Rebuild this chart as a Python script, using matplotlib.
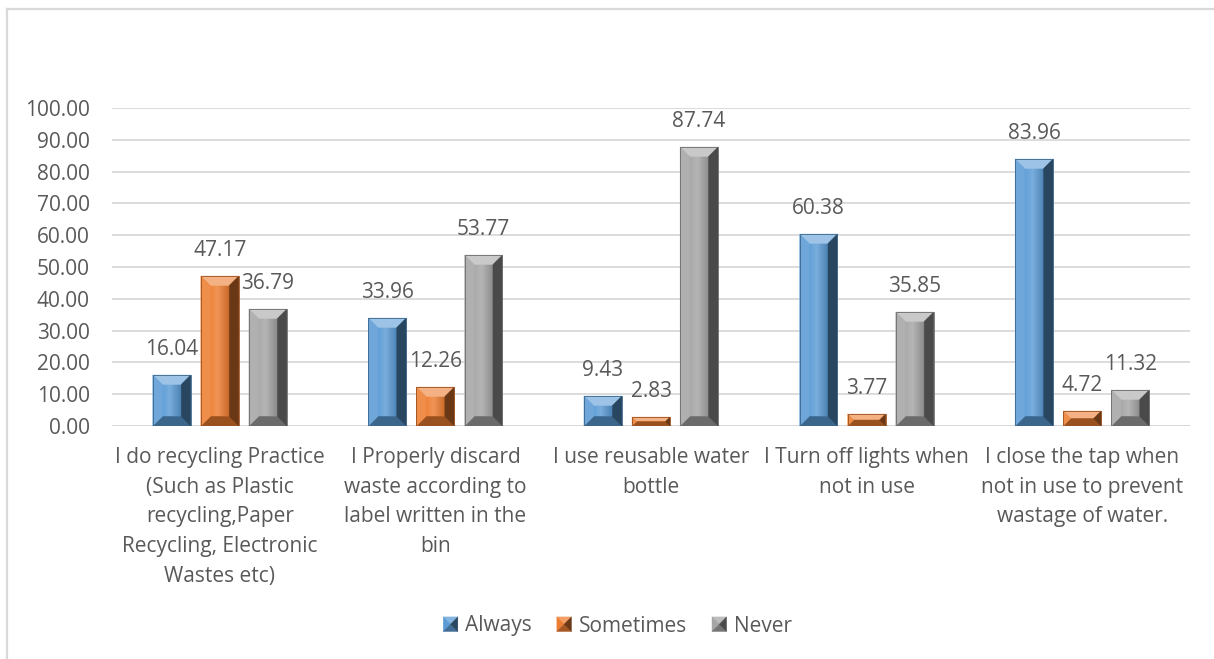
import matplotlib
matplotlib.use("Agg")
import matplotlib.pyplot as plt
import numpy as np
from matplotlib.patches import Polygon, Rectangle
from matplotlib.colors import to_rgb
from matplotlib.legend_handler import HandlerBase
from matplotlib.lines import Line2D

# ---- data ----
categories = [
    "I do recycling Practice\n(Such as Plastic\nrecycling,Paper\nRecycling, Electronic\nWastes etc)",
    "I Properly discard\nwaste according to\nlabel written in the\nbin",
    "I use reusable water\nbottle",
    "I Turn off lights when\nnot in use",
    "I close the tap when\nnot in use to prevent\nwastage of water.",
]
series_names = ["Always", "Sometimes", "Never"]
always = [16.04, 33.96, 9.43, 60.38, 83.96]
sometimes = [47.17, 12.26, 2.83, 3.77, 4.72]
never = [36.79, 53.77, 87.74, 35.85, 11.32]
y_ticks = [0, 10, 20, 30, 40, 50, 60, 70, 80, 90, 100]

colors = ["#5B9BD5", "#ED7D31", "#A5A5A5"]
text_color = "#595959"
grid_color = "#D9D9D9"

plt.rcParams["font.family"] = ["Open Sans", "DejaVu Sans"]

W, H, DPI = 1214, 659, 100
fig = plt.figure(figsize=(W / DPI, H / DPI), dpi=DPI)
fig.patch.set_facecolor("white")

ax_left, ax_bottom = 112 / W, (H - 426) / H
ax_w, ax_h = 1078 / W, 318 / H
ax = fig.add_axes([ax_left, ax_bottom, ax_w, ax_h])

xlim = (-0.5, 4.5)
ylim = (0, 100)
ax.set_xlim(*xlim)
ax.set_ylim(*ylim)

# data units per pixel
ux = (xlim[1] - xlim[0]) / (ax_w * W)
uy = (ylim[1] - ylim[0]) / (ax_h * H)


def tint(c, f):
    r = np.array(to_rgb(c))
    return tuple(r + (1 - r) * f)


def shade(c, f):
    r = np.array(to_rgb(c))
    return tuple(r * (1 - f))


def bevel(ax, patch, color):
    x0, y0 = patch.get_x(), patch.get_y()
    w, h = patch.get_width(), patch.get_height()
    x1, y1 = x0 + w, y0 + h
    w_px, h_px = w / ux, h / uy
    b = min(9.5, w_px / 2 * 0.9, h_px / 2)
    bx, by = b * ux, b * uy
    ix0, ix1, iy0, iy1 = x0 + bx, x1 - bx, y0 + by, y1 - by
    z = patch.get_zorder()
    # face gradient: highlight left of centre, darker towards the right
    if ix1 > ix0 and iy1 > iy0:
        stops_t = [0.0, 0.4, 1.0]
        stops_c = [np.array(tint(color, 0.05)), np.array(tint(color, 0.18)),
                   np.array(shade(color, 0.15))]
        t = np.linspace(0, 1, 64)
        grad = np.stack([np.interp(t, stops_t, [c[k] for c in stops_c])
                         for k in range(3)], axis=-1)[None, :, :]
        ax.imshow(grad, extent=(ix0, ix1, iy0, iy1), aspect="auto",
                  interpolation="bilinear", zorder=z + 0.1)
    polys = [
        ([(x0, y1), (x1, y1), (ix1, iy1), (ix0, iy1)], tint(color, 0.40)),   # top
        ([(x0, y0), (x1, y0), (ix1, iy0), (ix0, iy0)], shade(color, 0.35)),  # bottom
        ([(x0, y0), (x0, y1), (ix0, iy1), (ix0, iy0)], tint(color, 0.12)),   # left
        ([(x1, y0), (x1, y1), (ix1, iy1), (ix1, iy0)], shade(color, 0.55)),  # right
    ]
    for pts, c in polys:
        ax.add_patch(Polygon(pts, closed=True, facecolor=c, edgecolor=c,
                             linewidth=0.3, zorder=z + 0.2))
    ax.add_patch(Rectangle((x0, y0), w, h, fill=False,
                           edgecolor=shade(color, 0.35), linewidth=0.6,
                           zorder=z + 0.3))


x = np.arange(len(categories))
bar_w = 0.176
offset = 0.223
all_series = [always, sometimes, never]

for i, (vals, col) in enumerate(zip(all_series, colors)):
    bars = ax.bar(x + (i - 1) * offset, vals, width=bar_w, color=col,
                  zorder=3, label=series_names[i])
    for p, v in zip(bars, vals):
        bevel(ax, p, col)
        ax.annotate(f"{v:.2f}", (p.get_x() + p.get_width() / 2, v),
                    xytext=(0, 11), textcoords="offset points",
                    ha="center", va="bottom", fontsize=15,
                    color=text_color, zorder=6)

ax.set_xlim(*xlim)
ax.set_ylim(*ylim)

ax.set_yticks(y_ticks)
ax.set_yticklabels([f"{v:.2f}" for v in y_ticks])
ax.set_xticks(x)
ax.set_xticklabels(categories, linespacing=1.55)
ax.tick_params(axis="y", length=0, pad=16, labelsize=15, labelcolor=text_color)
ax.tick_params(axis="x", length=0, pad=15, labelsize=15, labelcolor=text_color)
ax.grid(axis="y", color=grid_color, linewidth=1.3, zorder=0)
ax.set_axisbelow(True)
for s in ax.spines.values():
    s.set_visible(False)
ax.axhline(0, color=grid_color, linewidth=1.3, zorder=1)


class BevelHandler(HandlerBase):
    def __init__(self, color):
        super().__init__()
        self.color = color

    def create_artists(self, legend, orig_handle, xdescent, ydescent,
                       width, height, fontsize, trans):
        s = min(width, height)
        cx = -xdescent + width / 2
        cy = -ydescent + height / 2
        x0, x1 = cx - s / 2, cx + s / 2
        y0, y1 = cy - s / 2, cy + s / 2
        c = self.color
        arts = []
        faces = [
            ([(x0, y1), (x1, y1), (cx, cy)], tint(c, 0.25)),   # top
            ([(x0, y0), (x0, y1), (cx, cy)], c),               # left
            ([(x0, y0), (x1, y0), (cx, cy)], shade(c, 0.30)),  # bottom
            ([(x1, y0), (x1, y1), (cx, cy)], shade(c, 0.55)),  # right
        ]
        for pts, col in faces:
            arts.append(Polygon(pts, closed=True, facecolor=col, edgecolor=col,
                                linewidth=0.3, transform=trans))
        return arts


handles = [Line2D([], [], label=n) for n in series_names]
leg = fig.legend(handles=handles, labels=series_names, loc="center",
                 bbox_to_anchor=(0.5087, (H - 626) / H), ncol=3, frameon=False,
                 fontsize=15, handlelength=0.7, handleheight=0.7,
                 handletextpad=0.35, columnspacing=1.2,
                 handler_map={h: BevelHandler(c) for h, c in zip(handles, colors)})
for t in leg.get_texts():
    t.set_color(text_color)

# chart frame (left and top edges)
fig.add_artist(Line2D([6.5 / W, 6.5 / W], [0, (H - 9) / H], color=grid_color,
                      linewidth=1.6, transform=fig.transFigure))
fig.add_artist(Line2D([6.5 / W, 1], [(H - 9) / H, (H - 9) / H], color=grid_color,
                      linewidth=1.6, transform=fig.transFigure))

fig.savefig("out.png", dpi=DPI, facecolor="white")
